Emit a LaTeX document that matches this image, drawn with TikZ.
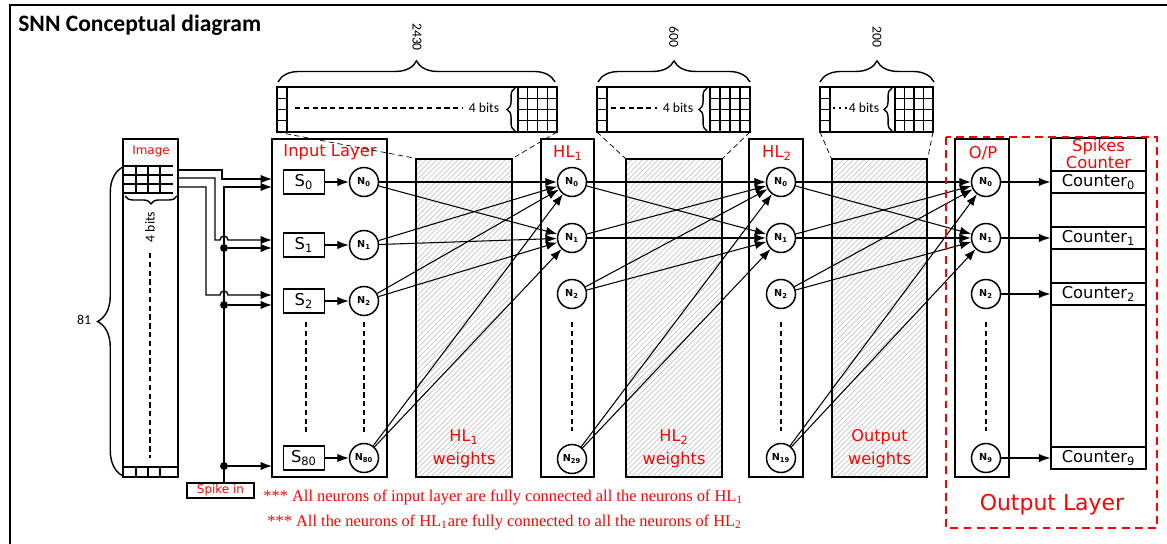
\documentclass[tikz,border=0pt]{standalone}
\usepackage{fontspec}
\setmainfont{Liberation Serif}
\setsansfont{Carlito}
\newfontfamily\dvs{DejaVu Sans}
\usetikzlibrary{arrows.meta,patterns,decorations.pathreplacing}
\tikzstyle{neuron}=[circle, draw, line width=0.85pt, minimum size=0.58cm, inner sep=0pt, font=\dvs\bfseries\fontsize{5.5}{6}\selectfont]
\tikzstyle{sbox}=[draw, line width=0.8pt, minimum width=0.82cm, minimum height=0.48cm, inner sep=0pt, font=\dvs\fontsize{9.3}{10}\selectfont]
\tikzstyle{layerbox}=[draw, line width=0.8pt, inner sep=0pt]
\tikzstyle{wts}=[draw, line width=0.8pt, inner sep=0pt, pattern=north east lines, pattern color=gray!45]
\tikzstyle{redlbl}=[text=red, inner sep=0pt, font=\dvs\fontsize{9.3}{10}\selectfont]
\tikzstyle{crow}=[draw, line width=0.8pt, minimum width=1.9cm, minimum height=0.44cm, inner sep=0pt, font=\dvs\fontsize{9.3}{10}\selectfont]
\tikzstyle{syn}=[-{Latex[length=6.5pt,width=4.8pt]}, line width=0.6pt]
\tikzstyle{wire}=[line width=0.8pt]
\tikzstyle{cell}=[line width=0.6pt]
\tikzstyle{vdash}=[line width=0.9pt, dash pattern=on 3pt off 2pt]
\tikzstyle{bits}=[inner sep=0pt, font=\sffamily\fontsize{7.8}{8}\selectfont]
\tikzstyle{jdot}=[circle, fill, inner sep=0pt, minimum size=4.5pt]

\begin{document}
\begin{tikzpicture}[x=0.02cm, y=-0.02cm]
\useasboundingbox (0,0) rectangle (1167,544);
\draw[line width=1.2pt] (1167,5) -- (10,5) -- (10,544);
\node[anchor=west, inner sep=0pt, font=\sffamily\bfseries\fontsize{13.4}{15}\selectfont] (title) at (18,25) {SNN Conceptual diagram};

\draw[wire] (123,139) rectangle (178,477);
\node[redlbl, font=\dvs\fontsize{6.8}{8}\selectfont] (imglbl) at (151,151) {Image};
\foreach \y in {166,175,184,193} \draw[cell] (123,\y) -- (173,\y);
\foreach \x in {136,148,160} \draw[cell] (\x,166) -- (\x,193);
\draw[cell] (123,467) -- (178,467);
\foreach \x in {136,148,160} \draw[cell] (\x,467) -- (\x,477);
\draw[wire, decorate, decoration={brace, amplitude=4.5pt}] (177,196) -- (125,196);
\node[bits, rotate=90] (imgbits) at (150,227) {4 bits};
\draw[vdash] (150,253) -- (150,458);
\draw[wire, decorate, decoration={brace, amplitude=14.5pt}] (123,476) -- (123,167);
\node[bits] (n81) at (84,320) {81};

\node[layerbox, minimum width=2.3cm, minimum height=6.76cm] (inl) at (329.5,308) {};
\node[redlbl] (inlbl) at (330,152) {Input Layer};
\node[sbox] (s0) at (304,182) {S\textsubscript{0}};
\node[sbox] (s1) at (304,245) {S\textsubscript{1}};
\node[sbox] (s2) at (304,301) {S\textsubscript{2}};
\node[sbox] (s3) at (304,458) {S\textsubscript{80}};
\node[neuron] (in0) at (364,182) {N\textsubscript{0}};
\node[neuron] (in1) at (364,245) {N\textsubscript{1}};
\node[neuron] (in2) at (364,301) {N\textsubscript{2}};
\node[neuron] (in3) at (364,458) {N\textsubscript{80}};
\foreach \k in {0,1,2,3} \draw[syn] (s\k) -- (in\k);
\draw[vdash] (306,322) -- (306,432);
\draw[vdash] (364,322) -- (364,432);

\coordinate (im0) at (178,170);
\coordinate (im1) at (178,178);
\coordinate (im2) at (178,187);
\coordinate (a0) at (272,179);
\coordinate (b0) at (272,187);
\coordinate (a1) at (272,240);
\coordinate (b1) at (272,248);
\coordinate (a2) at (272,295);
\coordinate (b2) at (272,305);
\coordinate (b3) at (272,466);
\node[jdot] (j1) at (224,248) {};
\node[jdot] (j2) at (224,305) {};
\node[jdot] (j3) at (224,466) {};
\node[draw, line width=0.6pt, text=red, minimum width=1.34cm, minimum height=0.3cm, inner sep=0pt, font=\dvs\fontsize{6.8}{8}\selectfont] (spk) at (220.5,490.5) {Spike in};
\draw[wire, -{Latex[length=6.5pt,width=4.8pt]}] (im0) -| (222,179) -- (a0);
\draw[wire, -{Latex[length=6.5pt,width=4.8pt]}] (im1) -| (215,240) -- (220,240) arc[start angle=180, end angle=0, radius=0.08cm] -- (a1);
\draw[wire, -{Latex[length=6.5pt,width=4.8pt]}] (im2) -| (206,295) -- (220,295) arc[start angle=180, end angle=0, radius=0.08cm] -- (a2);
\draw[wire, -{Latex[length=6.5pt,width=4.8pt]}] (spk.north -| j3) |- (b0);
\draw[wire, -{Latex[length=6.5pt,width=4.8pt]}] (j1) -- (b1);
\draw[wire, -{Latex[length=6.5pt,width=4.8pt]}] (j2) -- (b2);
\draw[wire, -{Latex[length=6.5pt,width=4.8pt]}] (j3) -- (b3);

\node[wts, minimum width=1.92cm, minimum height=6.36cm] (wa) at (464,318) {};
\node[wts, minimum width=1.92cm, minimum height=6.36cm] (wb) at (674,318) {};
\node[wts, minimum width=1.9cm, minimum height=6.36cm] (wc) at (879.5,318) {};
\node[redlbl, align=center, font=\dvs\fontsize{9.2}{13}\selectfont] (walbl) at (464,449) {HL\textsubscript{1}\\weights};
\node[redlbl, align=center, font=\dvs\fontsize{9.2}{13}\selectfont] (wblbl) at (674,449) {HL\textsubscript{2}\\weights};
\node[redlbl, align=center, font=\dvs\fontsize{9.2}{13}\selectfont] (wclbl) at (879.5,449) {Output\\weights};

\node[layerbox, minimum width=1.06cm, minimum height=6.76cm] (hla) at (567.5,308) {};
\node[redlbl] (hlalbl) at (568,153) {HL\textsubscript{1}};
\node[neuron] (ha0) at (572,182) {N\textsubscript{0}};
\node[neuron] (ha1) at (572,238) {N\textsubscript{1}};
\node[neuron] (ha2) at (572,294) {N\textsubscript{2}};
\node[neuron] (ha3) at (572,459) {N\textsubscript{29}};
\draw[vdash] (572,322) -- (572,431);

\node[layerbox, minimum width=1.08cm, minimum height=6.76cm] (hlb) at (776,308) {};
\node[redlbl] (hlblbl) at (777,153) {HL\textsubscript{2}};
\node[neuron] (hb0) at (781,182) {N\textsubscript{0}};
\node[neuron] (hb1) at (781,238) {N\textsubscript{1}};
\node[neuron] (hb2) at (781,294) {N\textsubscript{2}};
\node[neuron] (hb3) at (781,458) {N\textsubscript{19}};
\draw[vdash] (781,322) -- (781,431);

\node[layerbox, minimum width=1.08cm, minimum height=6.76cm] (opl) at (982,308) {};
\node[redlbl] (opllbl) at (983,153) {O/P};
\node[neuron] (op0) at (986,182) {N\textsubscript{0}};
\node[neuron] (op1) at (986,238) {N\textsubscript{1}};
\node[neuron] (op2) at (986,294) {N\textsubscript{2}};
\node[neuron] (op3) at (986,458) {N\textsubscript{9}};
\draw[vdash] (986,322) -- (986,431);

\foreach \a in {0,1,2,3} \foreach \b in {0,1} {
  \draw[syn] (in\a) -- (ha\b);
  \draw[syn] (ha\a) -- (hb\b);
  \draw[syn] (hb\a) -- (op\b);
}

\node[layerbox, minimum width=1.9cm, minimum height=6.62cm] (cntbox) at (1098.5,303.5) {};
\node[redlbl, align=center, font=\dvs\fontsize{9.3}{7.6}\selectfont] (cntlbl) at (1098.5,154) {Spikes\\Counter};
\node[crow] (cnt0) at (1098.5,182) {Counter\textsubscript{0}};
\node[crow] (cnt1) at (1098.5,238) {Counter\textsubscript{1}};
\node[crow] (cnt2) at (1098.5,294) {Counter\textsubscript{2}};
\node[crow] (cnt3) at (1098.5,458) {Counter\textsubscript{9}};
\foreach \k in {0,1,2,3} \draw[syn] (op\k) -- (cnt\k);

\draw[red, line width=1.3pt, dash pattern=on 4.5pt off 3pt] (946,137) rectangle (1157,528);
\node[redlbl, font=\dvs\fontsize{12.5}{14}\selectfont] (outlbl) at (1052,505) {Output Layer};

\foreach \l/\r/\g in {277/557/518, 597/750/710, 820/933/895} {
  \draw[cell] (\l,87) rectangle (\r,132);
  \draw[cell] (\l+10,87) -- (\l+10,132);
  \draw[cell] (\g,87) -- (\g,132);
  \foreach \k in {1,2,3} {
    \draw[cell] (\l,87+11.25*\k) -- (\l+10,87+11.25*\k);
    \draw[cell] (\g,87+11.25*\k) -- (\r,87+11.25*\k);
    \draw[cell] ({\g+(\r-\g)*\k/4},87) -- ({\g+(\r-\g)*\k/4},132);
  }
}
\draw[vdash] (295,108) -- (463,108);
\node[bits] (mabits) at (484,108) {4 bits};
\draw[wire, decorate, decoration={brace, amplitude=4.5pt}] (515,131) -- (515,88);
\draw[wire, decorate, decoration={brace, amplitude=12pt}] (278,82) -- (555,82);
\node[bits, rotate=-90] (ma) at (417,37) {2430};
\draw[densely dashed, thin] (277,132) -- (wa.north west);
\draw[densely dashed, thin] (557,132) -- (wa.north east);

\draw[vdash] (611,108) -- (657,108);
\node[bits] (mbbits) at (678,108) {4 bits};
\draw[wire, decorate, decoration={brace, amplitude=4.5pt}] (707,131) -- (707,88);
\draw[wire, decorate, decoration={brace, amplitude=12pt}] (598,82) -- (750,82);
\node[bits, rotate=-90] (mb) at (674,37) {600};
\draw[densely dashed, thin] (597,132) -- (wb.north west);
\draw[densely dashed, thin] (750,132) -- (wb.north east);

\draw[cell, dash pattern=on 1pt off 2.5pt] (833,108) -- (847,108);
\node[bits] (mcbits) at (864,108) {4 bits};
\draw[wire, decorate, decoration={brace, amplitude=4.5pt}] (892,131) -- (892,88);
\draw[wire, decorate, decoration={brace, amplitude=12pt}] (820,82) -- (934,82);
\node[bits, rotate=-90] (mc) at (877,37) {200};
\draw[densely dashed, thin] (820,132) -- (wc.north west);
\draw[densely dashed, thin] (933,132) -- (wc.north east);

\node[anchor=west, text=red, inner sep=0pt, font=\rmfamily\fontsize{9.35}{12}\selectfont] (note1) at (263,497) {*** All neurons of input layer are fully connected all the neurons of HL\textsubscript{1}};
\node[anchor=west, text=red, inner sep=0pt, font=\rmfamily\fontsize{9.35}{12}\selectfont] (note2) at (267,522) {*** All the neurons of HL\textsubscript{1}are fully connected to all the neurons of HL\textsubscript{2}};
\end{tikzpicture}
\end{document}
